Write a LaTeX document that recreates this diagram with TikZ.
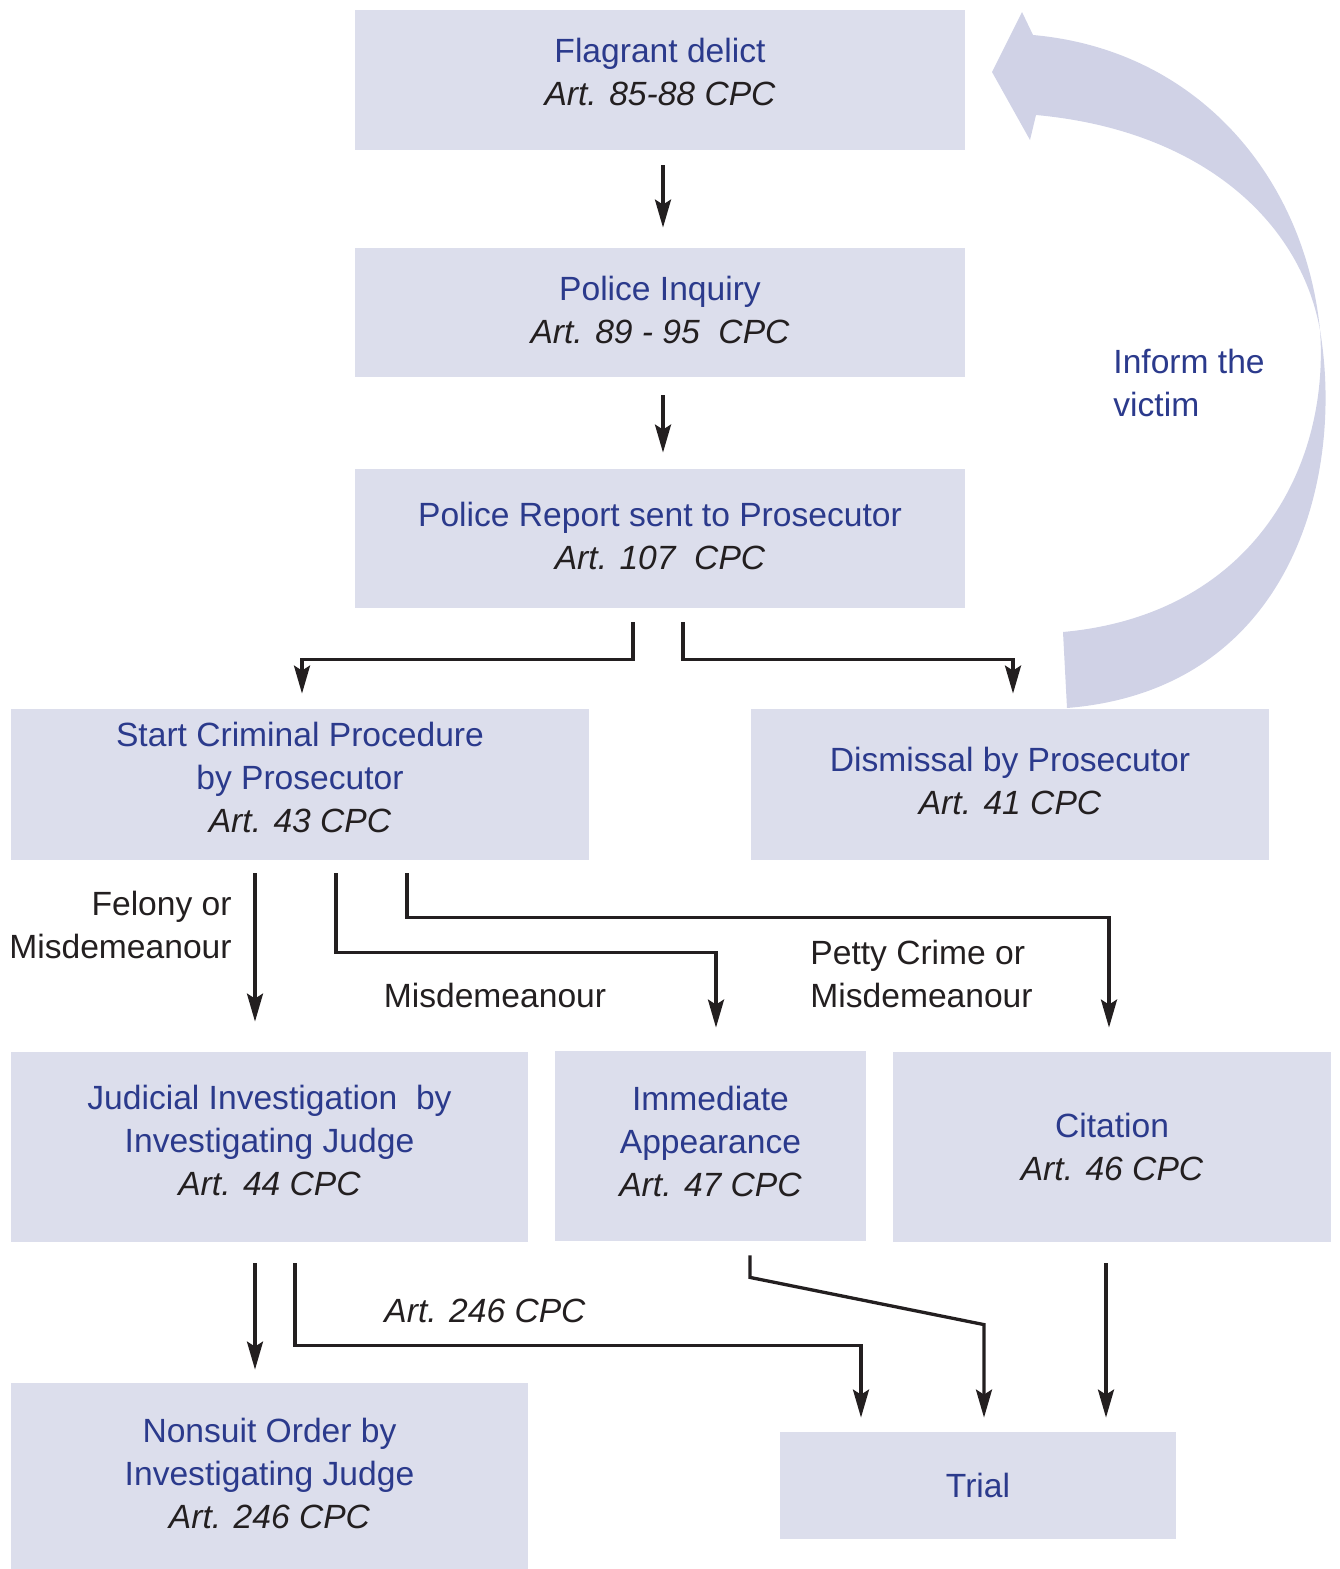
\documentclass[tikz,border=0pt]{standalone}
\usepackage{fontspec}
\setmainfont{Liberation Sans}
\usetikzlibrary{arrows.meta,calc}
\definecolor{boxfill}{HTML}{DCDEEC}
\definecolor{boxblue}{HTML}{2B3A8C}
\definecolor{ribbon}{HTML}{D0D2E6}
\definecolor{artgray}{HTML}{231F20}
\newcommand{\artref}[1]{{\color{artgray}\itshape #1}}
\tikzset{
	box/.style={fill=boxfill, text=boxblue, align=center, inner sep=0pt,
		font=\fontsize{16.8}{21.5}\selectfont},
	lift/.style={text depth=#1},
	lbl/.style={text=artgray, inner sep=0pt, font=\fontsize{16.8}{21.5}\selectfont},
	arr/.style={draw=artgray, line width=1.65pt, miter limit=10,
		-{Stealth[length=14pt, width=8pt, inset=2.5pt]}}
}
\begin{document}
\begin{tikzpicture}[x=0.5pt,y=-0.5pt]
		\useasboundingbox (0,0) rectangle (1339,1569);
		% boxes
		\node[box, lift=8pt, minimum width=305pt, minimum height=70pt] (flagrant) at (660,80) {Flagrant delict\\\artref{Art. 85-88 CPC}};
		\node[box, lift=3pt, minimum width=305pt, minimum height=64.5pt] (inquiry) at (660,312.5) {Police Inquiry\\\artref{Art. 89 - 95\ \ CPC}};
		\node[box, lift=3pt, minimum width=305pt, minimum height=69.5pt] (report) at (660,538.5) {Police Report sent to Prosecutor\\\artref{Art. 107\ \ CPC}};
		\node[box, lift=7pt, minimum width=289pt, minimum height=75.5pt] (start) at (300,784.5) {Start Criminal Procedure\\by Prosecutor\\\artref{Art. 43 CPC}};
		\node[box, lift=4pt, minimum width=259pt, minimum height=75.5pt] (dismissal) at (1010,784.5) {Dismissal by Prosecutor\\\artref{Art. 41 CPC}};
		\node[box, lift=7pt, minimum width=258.5pt, minimum height=95pt] (judicial) at (269.5,1147) {Judicial Investigation\ \ by\\Investigating Judge\\\artref{Art. 44 CPC}};
		\node[box, lift=5pt, minimum width=155.5pt, minimum height=95pt] (immediate) at (710.5,1146) {Immediate\\Appearance\\\artref{Art. 47 CPC}};
		\node[box, minimum width=219pt, minimum height=95pt] (citation) at (1112,1147) {Citation\\\artref{Art. 46 CPC}};
		\node[box, lift=3pt, minimum width=258.5pt, minimum height=93pt] (nonsuit) at (269.5,1476) {Nonsuit Order by\\Investigating Judge\\\artref{Art. 246 CPC}};
		\node[box, minimum width=198pt, minimum height=53.5pt] (trial) at (978,1485.5) {Trial};
		% inform the victim
		\fill[ribbon] (992,72) -- (1022,12) -- (1033,35)
			.. controls (1200,50) and (1305,180) .. (1320,330)
			.. controls (1345,480) and (1290,690) .. (1067,708)
			-- (1063,632)
			.. controls (1250,615) and (1330,470) .. (1320,330)
			.. controls (1300,220) and (1200,130) .. (1036,115)
			-- (1030,140) -- cycle;
		\node[text=boxblue, align=left, anchor=north west, inner sep=0pt, font=\fontsize{16.8}{21.5}\selectfont] (victim) at (1113,349) {Inform the\\victim};
		% labels
		\node[lbl, align=right, anchor=east] (felony) at (232,925) {Felony or\\Misdemeanour};
		\node[lbl] (misd) at (495,995) {Misdemeanour};
		\node[lbl, align=left, anchor=west] (petty) at (810,974) {Petty Crime or\\Misdemeanour};
		\node[lbl, font=\fontsize{16.8}{21.5}\selectfont\itshape] (art246) at (485,1311) {Art. 246 CPC};
		% connectors
		\draw[arr] ($(flagrant.south)+(3,15)$) -- ($(inquiry.north)+(3,-20)$);
		\draw[arr] ($(inquiry.south)+(3,18)$) -- ($(report.north)+(3,-16)$);
		\draw[arr] ($(report.south)+(-27,14)$) -- ++(0,37) -| ($(start.north)+(2,-15)$);
		\draw[arr] ($(report.south)+(23,14)$) -- ++(0,37) -| ($(dismissal.north)+(3,-15)$);
		\draw[arr] ($(start.south)+(-45,13)$) -- ($(judicial.north)+(-14.5,-30)$);
		\draw[arr] ($(start.south)+(36,13)$) -- ++(0,79) -| ($(immediate.north)+(5.5,-23)$);
		\draw[arr] ($(start.south)+(107,13)$) -- ++(0,44) -| ($(citation.north)+(-3,-24)$);
		\draw[arr] ($(judicial.south)+(-14.5,21)$) -- ($(nonsuit.north)+(-14.5,-13)$);
		\draw[arr] ($(judicial.south)+(25.5,21)$) -- ++(0,82) -| ($(trial.north)+(-117,-14)$);
		\draw[arr] ($(immediate.south)+(39.5,14)$) -- ++(0,22) -- ($(trial.north)+(6,-107)$) -- ($(trial.north)+(6,-14)$);
		\draw[arr] ($(citation.south)+(-6,21)$) -- ($(trial.north)+(128,-14)$);
	\end{tikzpicture}
\end{document}
